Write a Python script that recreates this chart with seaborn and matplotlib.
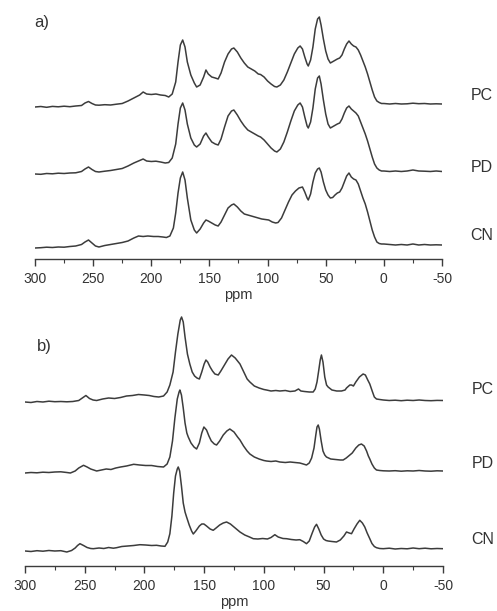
import matplotlib
matplotlib.use("Agg")
import matplotlib.pyplot as plt
import seaborn as sns
import pandas as pd
from matplotlib.ticker import MultipleLocator

# --- panel a) spectra: ppm positions and heights above each trace's baseline ---
a_pc_ppm = [300, 295, 290, 285, 280, 275, 270, 265, 260, 257, 254, 251, 248, 245, 240, 235, 230, 225, 220, 215,
            210, 207, 204, 200, 196, 192, 188, 185, 182, 179, 177, 175, 173, 171, 169, 166, 163, 161, 158, 155,
            153, 151, 148, 145, 142.5, 140, 137, 134, 131, 129, 126, 123, 120, 117, 114, 111, 108, 106, 103, 100,
            97, 94, 92, 89, 86, 83, 80, 77, 74, 72, 70, 68, 66, 65, 63, 61, 59, 57, 55.5, 54,
            52, 50, 48, 46, 43, 40, 38, 36, 34, 32, 30, 28, 26, 24, 22, 20, 18, 16, 14, 12,
            10, 8, 6, 4, 2, 0, -5, -10, -15, -20, -25, -30, -35, -40, -45, -50]
a_pc_int = [0, 0.5, -0.3, 0.6, 0.2, 0.8, 0.3, 1.0, 1.5, 4, 5.5, 3.5, 2, 1.8, 2.3, 2.0, 2.8, 3.5, 6, 9,
            12, 15, 13, 12.5, 13, 12, 11.5, 10, 13, 25, 45, 62, 67, 60, 45, 32, 24, 20, 22, 30,
            37, 33, 30, 29, 28, 34, 45, 53, 58, 59, 55, 49, 44, 40, 38, 36, 33, 32.5, 30, 26,
            23, 20.5, 20, 22, 27, 35, 44, 53, 59, 61, 58, 50, 43, 41, 47, 60, 78, 88, 90, 82,
            68, 56, 48, 44, 46, 48, 49, 52, 58, 63, 66, 63, 61, 60, 57, 52, 46, 40, 33, 25,
            17, 10, 6, 4.5, 3.5, 3.5, 3, 3.5, 3, 3.2, 3.8, 3.3, 3.5, 3, 3.2, 3]

a_pd_ppm = a_pc_ppm
a_pd_int = [0, -0.3, 0.5, 0.2, 0.8, 0.5, 1, 1.2, 2.5, 5, 7, 4.5, 2.5, 2, 2.8, 3.5, 4.5, 5.5, 8, 11,
            13.5, 15, 13, 12.5, 12.8, 12, 11, 11.5, 16, 30, 50, 66, 71, 64, 50, 36, 29, 27, 30, 38,
            41, 37, 32, 30, 29, 35, 47, 58, 63, 64, 59, 53, 48, 44, 42, 40, 38, 37, 34, 30,
            26, 23, 22, 25, 32, 42, 53, 63, 69, 71, 67, 57, 48, 46, 52, 66, 85, 96, 98, 90,
            74, 60, 50, 46, 48, 50, 51, 55, 61, 66, 68, 65, 63, 61, 58, 52, 46, 40, 33, 25,
            17, 10, 6, 4, 3, 3, 2.5, 3, 2.5, 3, 4, 3, 2.8, 2.5, 3, 2.5]

a_cn_ppm = [300, 295, 290, 285, 280, 275, 270, 265, 260, 257, 254, 251, 248, 245, 240, 235, 230, 225, 220, 215,
            211, 207, 203, 198, 194, 190, 187, 184, 181, 179, 177, 175, 173, 171, 169, 166, 163, 161, 158, 155,
            153, 151, 148, 145, 142.5, 140, 137, 134, 131, 129, 126, 123, 120, 117, 114, 111, 108, 105, 102, 99,
            96, 93, 91, 88, 85, 82, 79, 76, 73, 70, 68, 66, 65, 63, 61, 59, 57, 55.5, 54, 52,
            50, 48, 46, 44, 42, 40, 38, 36, 34, 32, 30, 28, 26, 24, 22, 20, 18, 16, 14, 12,
            10, 8, 6, 4, 2, 0, -5, -10, -15, -20, -25, -30, -35, -40, -45, -50]
a_cn_int = [0, 0.3, 0.8, 0.5, 1.0, 0.8, 1.5, 2, 3.5, 6, 8, 5, 2, 1, 2.5, 3.5, 4.5, 5.5, 7, 10,
            12, 11.5, 12, 11.5, 11.5, 11, 10.5, 12, 20, 35, 55, 70, 76, 68, 50, 28, 18, 15, 19, 25,
            28, 27, 25, 23, 22, 26, 33, 40, 43, 44, 41, 37, 34, 33, 32, 31, 30, 29, 28.5, 28,
            26, 25, 25.5, 30, 38, 46, 53, 57, 60, 61, 56, 50, 48, 54, 66, 75, 79, 80, 76, 66,
            58, 53, 50, 50.5, 53, 55, 56, 60, 66, 72, 75, 71, 69, 68, 64, 57, 50, 44, 36, 27,
            18, 11, 6, 4.5, 4, 4, 3.5, 3, 3.5, 3, 4, 3, 3.5, 3, 3.2, 3]

# --- panel b) spectra ---
b_pc_ppm = [300, 295, 290, 285, 280, 275, 270, 265, 260, 255, 252, 249, 246, 243, 240, 235, 230, 225, 220, 215,
            210, 205, 200, 196, 192, 188, 184, 181, 178.7, 176, 174, 172, 170, 168.9, 167.5, 166, 164, 162, 160, 158,
            156, 154, 152, 150, 148.5, 147, 145, 143, 141, 138.2, 136, 133, 130, 127.1, 124, 120, 118, 116, 114, 111.7,
            108, 104, 100, 97.8, 94, 90, 86.6, 82, 78, 74, 71, 69, 66, 62, 58.7, 57, 55.5, 54, 52.8, 51.8,
            50.5, 49, 47.5, 46.2, 43, 39, 35, 32, 30.8, 28, 26.6, 25, 23, 20, 16.9, 15, 13, 11.3, 9, 7.5,
            5.7, 3, 0, -5, -10, -15, -20, -25, -30, -35, -40, -45, -50]
b_pc_int = [0, -0.5, 0.5, 0, 0.8, 0.3, 0.5, 0.2, 0.5, 1.5, 4, 6.5, 3.5, 2, 1.5, 3, 4, 3.5, 4.5, 6,
            6.5, 7.5, 7, 6.5, 5.5, 5, 6, 10, 17, 30, 50, 68, 82, 85, 80, 65, 48, 38, 30, 26,
            24, 23, 30, 38, 42, 40, 35, 31, 28, 27, 31, 37, 43, 47, 44, 38, 33, 28, 23, 20,
            16, 14, 12.5, 12, 11, 11.5, 11, 11.5, 10.5, 11, 13, 11, 10.5, 10, 10, 13, 20, 32, 42, 47,
            40, 25, 17, 15, 12, 11, 11, 12, 14, 17, 17, 16, 20, 25, 28, 27, 22, 18, 10, 5,
            3, 2.5, 2, 1.5, 1.8, 1.3, 1.8, 1.5, 2, 1.5, 1.3, 1.6, 1.5]

b_pd_ppm = [300, 295, 290, 285, 280, 275, 270, 265, 262, 258, 255, 251, 248, 245, 240, 236, 232, 228, 224, 220,
            215, 209, 204, 199, 194, 189, 184, 181, 178.7, 176.5, 174.5, 172.5, 171, 170.3, 169, 167.5, 166, 164.5, 163.3, 161,
            158.5, 156.3, 154, 152, 150.2, 148, 146, 144, 141.5, 139.6, 137, 134, 131, 128.5, 125, 122, 120, 117, 114, 111.7,
            108, 104, 100, 97.8, 94, 90, 86.6, 82, 78, 74, 69.9, 67, 64.3, 62, 60, 58, 56.5, 55.5, 54.5, 53.5,
            52, 50.5, 49, 47.6, 44, 40, 36, 33.6, 31, 28, 26, 23, 20.5, 18.3, 16, 14, 12.5, 11.3, 9.5, 7.5,
            5.7, 3, 0, -5, -10, -15, -20, -25, -30, -35, -40, -45, -50]
b_pd_int = [0, 0.5, 0.2, 0.8, 0.5, 1, 1.2, 0.5, 0, 2, 5, 7.7, 6, 4, 2, 3, 4, 3.5, 5, 6,
            7, 8.7, 8, 7.5, 7.5, 6.5, 6, 9, 16, 32, 55, 74, 81, 83, 78, 65, 50, 40, 36, 30,
            26, 24, 30, 40, 46, 43, 37, 32, 29, 28, 32, 38, 42, 44, 41, 36, 33, 27, 22, 19,
            16, 14, 12.5, 12, 11.5, 12, 11, 10.5, 11, 10.5, 10, 9, 8, 10, 15, 25, 38, 46, 48, 44,
            32, 22, 18, 16, 14, 13.5, 13, 13, 15, 18, 20, 25, 28, 29, 27, 22, 17, 14, 9, 5,
            3, 2.5, 2.2, 2, 2.3, 1.8, 2.2, 2, 2.5, 2, 1.8, 2.2, 2]

b_cn_ppm = [300, 295, 290, 285, 280, 275, 270, 265, 261, 258, 256, 254, 251, 248, 245, 242.8, 238, 234, 230, 226,
            223.3, 219, 214, 209, 203.8, 199, 194, 189.8, 186, 182.8, 180.5, 178.7, 177, 175.5, 174, 172.5, 171.7, 170.5, 169, 167.5,
            166, 164.7, 162.5, 160.5, 159.1, 157, 154, 152, 150.2, 148, 145, 142.4, 140, 137, 134, 131.2, 128, 124, 120, 116,
            112, 108.9, 105, 101, 97, 94, 90.8, 88, 84, 81, 77, 73, 69.9, 67, 64.3, 62, 59.5, 57.5, 55.9, 54,
            52, 50, 48, 46.2, 43, 39.2, 36, 33, 30.8, 28.5, 26.6, 24.5, 22, 19.7, 17.5, 15.5, 13.5, 11.3, 9.5, 7.5,
            5.7, 3, 0, -5, -10, -15, -20, -25, -30, -35, -40, -45, -50]
b_cn_int = [0, -0.5, 0.3, -0.2, 0.5, 0, 0.3, -1, 0.5, 3, 5.5, 7.3, 5.5, 3.5, 2.5, 2.3, 3, 2.5, 3.5, 2.8,
            3.3, 4.5, 5, 5.5, 6.3, 6, 5.5, 5.7, 5, 4.7, 9, 17.3, 35, 58, 75, 82, 84, 80, 65, 48,
            39, 34, 26, 20, 17, 20, 25, 27, 27, 25, 22, 20.7, 23, 26, 28, 29, 27, 23, 19, 16,
            14, 12.3, 12, 12.5, 12, 13.5, 16.3, 14, 12.5, 12.3, 11.5, 11, 11.3, 9.5, 7.3, 10, 18, 24, 26.7, 22,
            16, 12, 10.5, 10, 9.5, 9, 11, 15, 19, 18, 17.3, 22, 27, 30.7, 28, 24, 18, 12.3, 7.5, 4.5,
            3.3, 2.5, 2.3, 2.8, 2, 2.5, 2.2, 3, 2.3, 2.8, 2.2, 2.5, 2.3]

samples = ["PC", "PD", "CN"]
panel_a = {"PC": (a_pc_ppm, a_pc_int), "PD": (a_pd_ppm, a_pd_int), "CN": (a_cn_ppm, a_cn_int)}
panel_b = {"PC": (b_pc_ppm, b_pc_int), "PD": (b_pd_ppm, b_pd_int), "CN": (b_cn_ppm, b_cn_int)}

# vertical stacking offsets (in the same units as the intensities)
offsets_a = {"PC": 152, "PD": 85, "CN": 11}
offsets_b = {"PC": 164, "PD": 93, "CN": 15}

line_col = "#3c3c3c"
text_col = "#333333"

sns.set_style("white")
plt.rcParams["font.family"] = ["Liberation Sans", "DejaVu Sans"]
plt.rcParams["axes.unicode_minus"] = False

W, H = 497, 611
fig = plt.figure(figsize=(W / 100, H / 100), dpi=100)


def make_df(panel, offsets):
    rows = []
    for s in samples:
        ppm, inten = panel[s]
        for p, v in zip(ppm, inten):
            rows.append({"ppm": p, "y": v + offsets[s], "sample": s})
    return pd.DataFrame(rows)


def draw_panel(rect, panel, offsets, ytop, label_x, label_y):
    left, right, spine_y, top_y = rect
    ax = fig.add_axes([left / W, 1 - spine_y / H, (right - left) / W, (spine_y - top_y) / H])
    df = make_df(panel, offsets)
    sns.lineplot(data=df, x="ppm", y="y", units="sample", estimator=None,
                 color=line_col, lw=1.1, ax=ax, legend=False)
    ax.set_xlim(300, -50)
    ax.set_ylim(0, ytop)
    for side in ["top", "right", "left"]:
        ax.spines[side].set_visible(False)
    ax.spines["bottom"].set_color(line_col)
    ax.spines["bottom"].set_linewidth(1.0)
    ax.set_yticks([])
    ax.set_ylabel("")
    ax.xaxis.set_major_locator(MultipleLocator(50))
    ax.xaxis.set_minor_locator(MultipleLocator(25))
    ax.tick_params(axis="x", which="major", length=5, width=1, color=line_col,
                   labelsize=10, labelcolor=text_col, pad=4.5, bottom=True)
    ax.tick_params(axis="x", which="minor", length=3, width=0.8, color=line_col, bottom=True)
    ax.set_xlabel("ppm", fontsize=10.5, color=text_col, labelpad=1)
    for s in samples:
        ax.text(label_x, label_y[s], s, fontsize=11.5, color=text_col,
                ha="center", va="center", clip_on=False)
    return ax


draw_panel((35, 442, 259, 5), panel_a, offsets_a, 254, -84,
           {"PC": 164, "PD": 91, "CN": 24})
draw_panel((25, 443, 566, 305), panel_b, offsets_b, 261, -83,
           {"PC": 176, "PD": 103, "CN": 27})

fig.text(34 / W, 1 - 22 / H, "a)", fontsize=12, color=text_col, ha="left", va="center")
fig.text(37 / W, 1 - 347 / H, "b)", fontsize=12, color=text_col, ha="left", va="center")

fig.savefig("out.png", dpi=100, facecolor="white")
